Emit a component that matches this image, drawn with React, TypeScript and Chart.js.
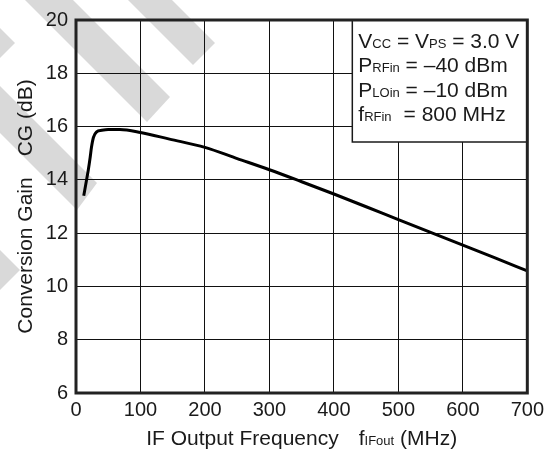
import React, { useEffect, useRef } from "react";
import { Chart, registerables } from "chart.js";

Chart.register(...registerables);

// ---- data ----
const freqMHz = [12, 16, 19, 22, 24, 27, 32, 40, 50, 68, 100, 145, 200, 250, 300, 350, 400, 450, 500, 550, 600, 650, 700];
const gainDb = [13.4, 13.95, 14.36, 14.85, 15.22, 15.59, 15.8, 15.86, 15.89, 15.89, 15.78, 15.53, 15.22, 14.8, 14.38, 13.93, 13.47, 12.99, 12.51, 12.03, 11.55, 11.07, 10.58];

const xMin = 0;
const xMax = 700;
const xStep = 100;
const yMin = 6;
const yMax = 20;
const yStep = 2;

type Seg = { text?: string; sub?: boolean; gap?: number };

const xTitle: Seg[] = [{ text: "IF Output Frequency" }, { gap: 20 }, { text: "f" }, { text: "IFout", sub: true }, { text: " (MHz)" }];
const yTitle: Seg[] = [{ text: "Conversion Gain" }, { gap: 21 }, { text: "CG (dB)" }];
const noteLines: Seg[][] = [
  [{ text: "V" }, { text: "CC", sub: true }, { text: " = V" }, { text: "PS", sub: true }, { text: " = 3.0 V" }],
  [{ text: "P" }, { text: "RFin", sub: true }, { text: " = \u201340 dBm" }],
  [{ text: "P" }, { text: "LOin", sub: true }, { text: " = \u201310 dBm" }],
  [{ text: "f" }, { text: "RFin", sub: true }, { gap: 12 }, { text: "= 800 MHz" }],
];

const FAMILY = "'Liberation Sans', Arial, Helvetica, sans-serif";
const MAIN_FONT = `21px ${FAMILY}`;
const SUB_FONT = `13px ${FAMILY}`;
const INK = "#1a1a1a";

function segW(ctx: CanvasRenderingContext2D, s: Seg) {
  if (s.gap) return s.gap;
  ctx.font = s.sub ? SUB_FONT : MAIN_FONT;
  return ctx.measureText(s.text || "").width;
}
function segsW(ctx: CanvasRenderingContext2D, segs: Seg[]) {
  return segs.reduce((a, s) => a + segW(ctx, s), 0);
}
function drawSegs(ctx: CanvasRenderingContext2D, segs: Seg[], x: number, y: number) {
  let cx = x;
  ctx.textAlign = "left";
  ctx.textBaseline = "alphabetic";
  for (const s of segs) {
    const w = segW(ctx, s);
    if (!s.gap) {
      ctx.font = s.sub ? SUB_FONT : MAIN_FONT;
      ctx.fillText(s.text || "", cx, y);
    }
    cx += w;
  }
}

// watermark stripes: end corners (upper-right, lower-left), running off up-left at 45°
const stripeEnds: [number, number, number, number][] = [
  [215, 43, 193, 65],
  [170, 97, 147, 122],
  [15, 43, -7, 65],
  [97, 183, 77, 210],
  [20, 270, -3, 293],
];

const decorPlugin = {
  id: "decor",
  beforeDraw(chart: any) {
    const ctx = chart.ctx as CanvasRenderingContext2D;
    ctx.save();
    ctx.fillStyle = "#d9d9d9";
    const L = 600;
    for (const [ax, ay, bx, by] of stripeEnds) {
      ctx.beginPath();
      ctx.moveTo(ax, ay);
      ctx.lineTo(bx, by);
      ctx.lineTo(bx - L, by - L);
      ctx.lineTo(ax - L, ay - L);
      ctx.closePath();
      ctx.fill();
    }
    ctx.restore();
  },
  afterDraw(chart: any) {
    const ctx = chart.ctx as CanvasRenderingContext2D;
    const a = chart.chartArea;
    ctx.save();
    ctx.fillStyle = INK;

    // x title
    const xw = segsW(ctx, xTitle);
    drawSegs(ctx, xTitle, (a.left + a.right) / 2 - xw / 2, a.bottom + 52);

    // y title (rotated)
    const yw = segsW(ctx, yTitle);
    ctx.save();
    ctx.translate(32, (a.top + a.bottom) / 2);
    ctx.rotate(-Math.PI / 2);
    drawSegs(ctx, yTitle, -yw / 2, 0);
    ctx.restore();

    // note box
    const bx = a.right - 175;
    const by = a.top;
    const bh = 122;
    ctx.fillStyle = "#ffffff";
    ctx.fillRect(bx, by, a.right - bx, bh);
    ctx.strokeStyle = INK;
    ctx.lineWidth = 1.5;
    ctx.strokeRect(bx, by, a.right - bx, bh);
    ctx.fillStyle = INK;
    noteLines.forEach((line, i) => {
      drawSegs(ctx, line, bx + 6, by + 27.7 + i * 24.5);
    });

    // frame
    ctx.strokeStyle = "#222";
    ctx.lineWidth = 3;
    ctx.strokeRect(a.left, a.top, a.right - a.left, a.bottom - a.top);
    ctx.restore();
  },
};

export default function App() {
  const ref = useRef<HTMLCanvasElement | null>(null);
  useEffect(() => {
    if (!ref.current) return;
    const chart = new Chart(ref.current, {
      type: "line",
      data: {
        datasets: [
          {
            data: freqMHz.map((f, i) => ({ x: f, y: gainDb[i] })),
            borderColor: "#000",
            borderWidth: 3,
            pointRadius: 0,
            fill: false,
            cubicInterpolationMode: "monotone",
          },
        ],
      },
      options: {
        responsive: false,
        animation: false,
        events: [],
        layout: { padding: { left: 0, top: 14, right: 18, bottom: 0 } },
        plugins: { legend: { display: false }, tooltip: { enabled: false }, title: { display: false } },
        scales: {
          x: {
            type: "linear",
            min: xMin,
            max: xMax,
            afterFit: (s: any) => {
              s.height = 61;
            },
            ticks: { stepSize: xStep, color: INK, font: { family: FAMILY, size: 20 }, padding: 5, maxRotation: 0 },
            grid: { color: "#111", lineWidth: 1, drawTicks: false },
            border: { display: false },
          },
          y: {
            type: "linear",
            min: yMin,
            max: yMax,
            afterFit: (s: any) => {
              s.width = 76;
            },
            ticks: { stepSize: yStep, color: INK, font: { family: FAMILY, size: 20 }, padding: 8 },
            grid: { color: "#111", lineWidth: 1, drawTicks: false },
            border: { display: false },
          },
        },
      },
      plugins: [decorPlugin],
    } as any);
    return () => chart.destroy();
  }, []);
  return (
    <div style={{ position: "absolute", left: 0, top: 0, width: 549, height: 454, background: "#fff" }}>
      <canvas ref={ref} width={549} height={454} style={{ display: "block" }} />
    </div>
  );
}
